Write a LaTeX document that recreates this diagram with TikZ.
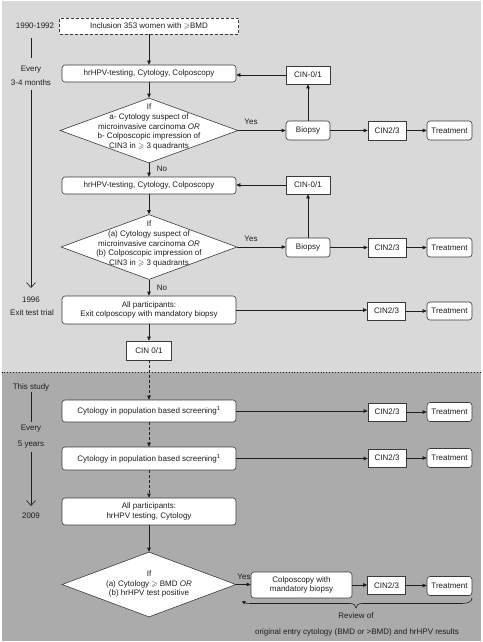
\documentclass[tikz,border=0pt]{standalone}
\usepackage{amssymb}
\usepackage{fontspec}
\setmainfont{Liberation Sans}
\usetikzlibrary{arrows.meta,shapes.geometric}
\definecolor{bgtop}{HTML}{D9D9D9}
\definecolor{bgbot}{HTML}{ABABAB}
\definecolor{edge}{HTML}{3A3A3A}
\definecolor{ink}{HTML}{1E1E1E}
\begin{document}
\begin{tikzpicture}[x=1pt,y=-1pt,
  every node/.style={font=\fontsize{8}{9.75}\selectfont, text=ink},
  sz/.style 2 args={minimum width=#1pt, minimum height=#2pt},
  rbox/.style={draw=edge, line width=0.6pt, fill=white, rounded corners=3pt, align=center, inner sep=0pt},
  sbox/.style={draw=edge, line width=0.6pt, fill=white, align=center, inner sep=0pt},
  dbox/.style={diamond, draw=edge, line width=0.6pt, fill=white, inner sep=0pt, minimum height=65pt},
  lbl/.style={inner sep=0.5pt, align=center},
  arr/.style={draw=ink, line width=0.6pt, -{Triangle[length=4pt,width=3.5pt]}},
  darr/.style={arr, dash pattern=on 3pt off 2pt},
  tl/.style={draw=ink, line width=0.6pt},
  tlarr/.style={tl, -{Straight Barb[length=5pt,width=9pt]}},
]
\useasboundingbox (0,0) rectangle (482,642);
% backgrounds
\fill[white] (0,0) rectangle (482,642);
\fill[bgtop] (1.5,1.5) rectangle (480.5,372);
\fill[bgbot] (1.5,372) rectangle (480.5,640.5);
\coordinate (dotL) at (1.5,372);
\coordinate (dotR) at (480.5,372);
\draw[ink, dotted, line width=0.9pt] (dotL) -- (dotR);

% timeline
\node[lbl] (y1990) at (35,26) {1990-1992};
\node[lbl] (ev1) at (31,70) {Every};
\node[lbl] (mo1) at (31,83) {3-4 months};
\node[lbl] (y1996) at (31,300) {1996};
\node[lbl] (exitt) at (32,313) {Exit test trial};
\node[lbl] (study) at (31,387) {This study};
\node[lbl] (ev2) at (31,429) {Every};
\node[lbl] (yr5) at (31,445) {5 years};
\node[lbl] (y2009) at (31,516) {2009};
\coordinate (tla) at (31,38);
\coordinate (tlb) at (31,58);
\coordinate (tlc) at (31,90);
\coordinate (tld) at (31,288);
\coordinate (tle) at (31,392);
\coordinate (tlf) at (31,422);
\coordinate (tlg) at (31,452);
\coordinate (tlh) at (31,506);
\draw[tl] (tla) -- (tlb);
\draw[tlarr] (tlc) -- (tld);
\draw[tl] (tle) -- (tlf);
\draw[tlarr] (tlg) -- (tlh);

% main column
\node[sbox, dash pattern=on 3pt off 2pt, sz={179}{16}] (inc) at (149,26) {Inclusion 353 women with $\geqslant$BMD};
\node[rbox, sz={174}{17}] (h1) at (149,73.5) {hrHPV-testing, Cytology, Colposcopy};
\node[dbox, minimum width=178pt] (d1) at (149,130.5) {};
\node[lbl] (d1t) at (149,127) {If\\a- Cytology suspect of\\microinvasive carcinoma \textit{OR}\\b- Colposcopic impression of\\CIN3 in $\geqslant$ 3 quadrants};
\node[rbox, sz={174}{17}] (h2) at (149,185.5) {hrHPV-testing, Cytology, Colposcopy};
\node[dbox, minimum width=176pt] (d2) at (149,247) {};
\node[lbl] (d2t) at (149,244) {If\\(a) Cytology suspect of\\microinvasive carcinoma \textit{OR}\\(b) Colposcopic impression of\\CIN3 in $\geqslant$ 3 quadrants};
\node[rbox, sz={174}{28}] (exit) at (149,310) {All participants:\\Exit colposcopy with mandatory biopsy};
\node[sbox, sz={45}{19}] (c0) at (149,350.5) {CIN 0/1};
\node[rbox, sz={174}{22}] (cy1) at (149,411) {Cytology in population based screening\textsuperscript{1}};
\node[rbox, sz={174}{23}] (cy2) at (149,458.5) {Cytology in population based screening\textsuperscript{1}};
\node[rbox, sz={174}{27}] (all2) at (149,511.5) {All participants:\\hrHPV testing, Cytology};
\node[dbox, minimum width=174pt] (d3) at (149,584.5) {};
\node[lbl] (d3t) at (149,584) {If\\(a) Cytology $\geqslant$ BMD \textit{OR}\\(b) hrHPV test positive};

% right side
\node[sbox, sz={44}{18}] (c01a) at (308,75) {CIN-0/1};
\node[rbox, sz={44}{19}] (b1) at (308,130.5) {Biopsy};
\node[sbox, sz={38}{19}] (c23a) at (387,130.5) {CIN2/3};
\node[rbox, sz={45}{19}] (t1) at (449.5,130.5) {Treatment};

\node[sbox, sz={44}{18}] (c01b) at (308,185) {CIN-0/1};
\node[rbox, sz={44}{19}] (b2) at (308,247.5) {Biopsy};
\node[sbox, sz={38}{19}] (c23b) at (387,247.5) {CIN2/3};
\node[rbox, sz={45}{19}] (t2) at (449.5,247.5) {Treatment};

\node[sbox, sz={38}{18}] (c23c) at (386.5,311) {CIN2/3};
\node[rbox, sz={45}{18}] (t3) at (449.5,311) {Treatment};

\node[sbox, sz={38}{18}] (c23d) at (387,412) {CIN2/3};
\node[rbox, sz={45}{19}] (t4) at (449.5,412) {Treatment};

\node[sbox, sz={38}{18}] (c23e) at (387,458) {CIN2/3};
\node[rbox, sz={45}{19}] (t5) at (449.5,458) {Treatment};

\node[rbox, sz={101}{26}] (colp) at (301.5,585) {Colposcopy with\\mandatory biopsy};
\node[sbox, sz={38}{18}] (c23f) at (386.5,585.5) {CIN2/3};
\node[rbox, sz={45}{19}] (t6) at (449.5,586) {Treatment};

% labels
\node[lbl] (yes1) at (251,122) {Yes};
\node[lbl] (yes2) at (251,239) {Yes};
\node[lbl] (yes3) at (244,577) {Yes};
\node[lbl] (no1) at (162,169) {No};
\node[lbl] (no2) at (162,288) {No};

% connectors
\draw[arr] (inc) -- (h1);
\draw[arr] (h1) -- (d1);
\draw[arr] (d1) -- (h2);
\draw[arr] (d1.east) -- (d1.east -| b1.west);
\draw[arr] (b1) -- (c01a);
\draw[arr] (c01a.west) -- (c01a.west -| h1.east);
\draw[arr] (b1) -- (c23a);
\draw[arr] (c23a) -- (t1);

\draw[arr] (h2) -- (d2);
\draw[arr] (d2) -- (exit);
\draw[arr] (d2.east) -- (d2.east -| b2.west);
\draw[arr] (b2) -- (c01b);
\draw[arr] (c01b.west) -- (c01b.west -| h2.east);
\draw[arr] (b2) -- (c23b);
\draw[arr] (c23b) -- (t2);

\draw[arr] (exit.east) -- (exit.east -| c23c.west);
\draw[arr] (c23c) -- (t3);
\draw[arr] (exit) -- (c0);
\draw[darr] (c0) -- (cy1);
\draw[arr] (cy1.east) -- (cy1.east -| c23d.west);
\draw[arr] (c23d) -- (t4);
\draw[darr] (cy1) -- (cy2);
\draw[arr] (cy2.east) -- (cy2.east -| c23e.west);
\draw[arr] (c23e) -- (t5);
\draw[darr] (cy2) -- (all2);
\draw[arr] (all2) -- (d3);
\draw[arr] (d3.east) -- (d3.east -| colp.west);
\draw[arr] (colp.east) -- (colp.east -| c23f.west);
\draw[arr] (c23f.east) -- (c23f.east -| t6.west);

% brace
\coordinate (brL) at (242,601);
\coordinate (brM) at (356,608);
\coordinate (brR) at (472,598);
\draw[ink, line width=0.6pt, {Triangle[length=3.5pt,width=3.5pt]}-] (brL) .. controls (246,603.5) and (250,603.5) .. (256,603.5) -- (349,603.5) .. controls (354,603.5) and (356,605) .. (brM);
\draw[ink, line width=0.6pt] (brM) .. controls (356,605) and (358,603.5) .. (363,603.5) -- (462,603.5) .. controls (469,603.5) and (472,601) .. (brR);
\node[lbl] (rev1) at (356,616) {Review of};
\node[lbl] (rev2) at (357,632) {original entry cytology (BMD or >BMD) and hrHPV results};
\end{tikzpicture}
\end{document}
